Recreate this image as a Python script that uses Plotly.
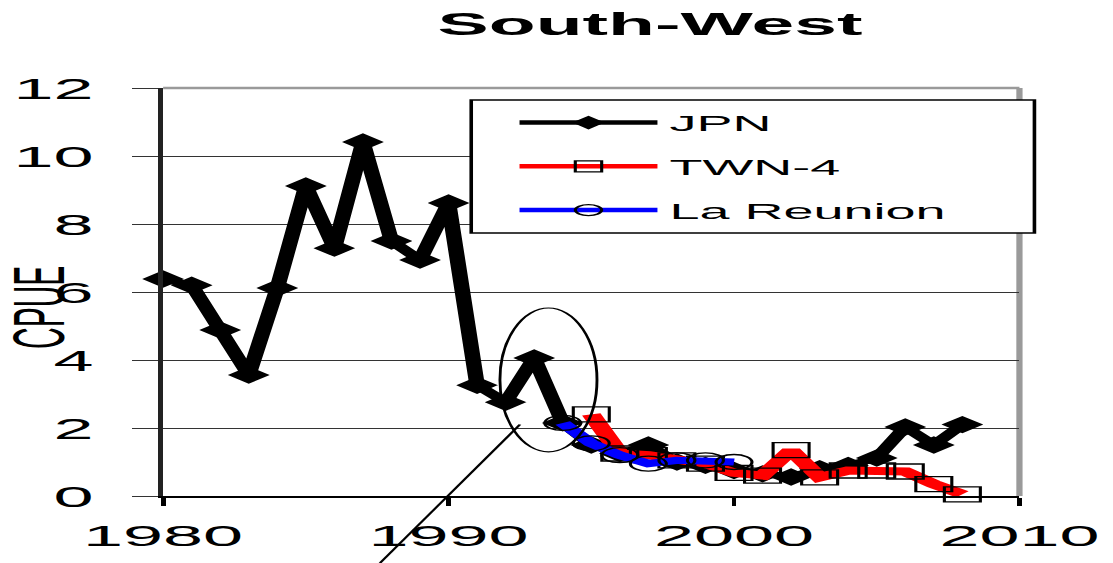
import plotly.graph_objects as go

# ---- data -------------------------------------------------------------
jpn_years = list(range(1980, 2009))
jpn_cpue = [6.38, 6.2, 4.88, 3.56, 6.12, 9.12, 7.29, 10.41, 7.5, 6.94,
            8.62, 3.26, 2.76, 4.06, 2.15, 1.5, 1.25, 1.5, 1.0, 0.9,
            0.75, 0.65, 0.56, 0.8, 0.9, 1.12, 2.03, 1.5, 2.1]

twn_years = list(range(1995, 2009))
twn_cpue = [2.4, 1.25, 1.2, 1.05, 0.95, 0.68, 0.6, 1.35, 0.55, 0.75,
            0.75, 0.72, 0.35, 0.05]

reu_years = list(range(1994, 2001))
reu_cpue = [2.15, 1.55, 1.2, 0.95, 1.05, 1.05, 1.0]

x_ticks = [1980, 1990, 2000, 2010]
y_ticks = [0, 2, 4, 6, 8, 10, 12]
x_range = [1980, 2010]
y_range = [0, 12]

# callout: ellipse around 1992-1995 and a pointer line running off the bottom
callout_x = [1991.8, 1995.2]
callout_y = [1.3, 5.53]
pointer_start = (1992.5, 2.1)
pointer_end_x = 1987.6

# ---- geometry ---------------------------------------------------------
# The chart is laid out narrow and then stretched horizontally by STRETCH.
PAGE_W, PAGE_H = 1113, 563
FIG_W = 464
STRETCH = PAGE_W / FIG_W
PLOT_L_PX, PLOT_R_PX = 164, 1020          # on the stretched page
M_L = PLOT_L_PX / STRETCH
M_R = FIG_W - PLOT_R_PX / STRETCH
M_T = 88
M_B = PAGE_H - 496
PLOT_W = FIG_W - M_L - M_R
PLOT_H = PAGE_H - M_T - M_B

# legend frame (paper units) and where the entries start
LEGEND_BOX = dict(x0=0.3598, x1=1.0175, y0=0.6446, y1=0.9706)
LEGEND_ENTRY_X = 0.398

FONT = "Liberation Sans, Arial, sans-serif"

# series styles: (name, values, line colour, line width, marker symbol, size)
series = [
    ("JPN", jpn_years, jpn_cpue, "black", 6.5, "diamond", 12),
    ("TWN-4", twn_years, twn_cpue, "#ff0000", 8, "square-open", 15),
    ("La Reunion", reu_years, reu_cpue, "#0000ff", 7, "circle-open", 15),
]
legend_marker_size = {"diamond": 9, "square-open": 11, "circle-open": 11}


def paper_x(x):
    return (x - x_range[0]) / (x_range[1] - x_range[0])


def paper_y(y):
    return (y - y_range[0]) / (y_range[1] - y_range[0])


fig = go.Figure()

for name, xs, ys, colour, width, symbol, size in series:
    marker = dict(symbol=symbol, size=size, color="black",
                  line=dict(color="black", width=1.3))
    fig.add_trace(go.Scatter(
        x=xs, y=ys, name=name, mode="lines+markers", cliponaxis=False,
        showlegend=False, legendgroup=name,
        line=dict(color=colour, width=width), marker=marker,
    ))

# legend entries use a thinner line and smaller symbols than the plotted series
for name, xs, ys, colour, width, symbol, size in series:
    fig.add_trace(go.Scatter(
        x=[None], y=[None], name=name, mode="lines+markers",
        legendgroup=name, showlegend=True,
        line=dict(color=colour, width=4.5),
        marker=dict(symbol=symbol, size=legend_marker_size[symbol],
                    color="black", line=dict(color="black", width=1.3)),
    ))

shapes = [
    # grey frame on top and right
    dict(type="line", xref="paper", yref="paper", x0=0, x1=1, y0=1, y1=1,
         line=dict(color="#9a9a9a", width=2.5), layer="below"),
    dict(type="line", xref="paper", yref="paper", x0=1, x1=1, y0=0, y1=1,
         line=dict(color="#9a9a9a", width=2.6), layer="below"),
    # callout
    dict(type="circle", xref="x", yref="y",
         x0=callout_x[0], x1=callout_x[1], y0=callout_y[0], y1=callout_y[1],
         line=dict(color="black", width=1.2)),
    dict(type="line", xref="paper", yref="paper",
         x0=paper_x(pointer_start[0]), y0=paper_y(pointer_start[1]),
         x1=paper_x(pointer_end_x), y1=-M_B / PLOT_H,
         line=dict(color="black", width=1.2)),
    # legend frame
    dict(type="rect", xref="paper", yref="paper", layer="above",
         fillcolor="white", line=dict(color="black", width=1.5),
         **LEGEND_BOX),
]

fig.update_layout(
    width=FIG_W, height=PAGE_H,
    margin=dict(l=M_L, r=M_R, t=M_T, b=M_B, pad=0, autoexpand=False),
    paper_bgcolor="white", plot_bgcolor="white",
    font=dict(family=FONT, color="black"),
    showlegend=True,
    title=dict(text="South-West", x=271 / FIG_W, xanchor="center",
               y=1 - 23.5 / PAGE_H, yanchor="middle",
               font=dict(size=32, weight="bold", color="black")),
    legend=dict(x=LEGEND_ENTRY_X, y=LEGEND_BOX["y1"],
                xanchor="left", yanchor="top",
                bgcolor="rgba(0,0,0,0)", bordercolor="rgba(0,0,0,0)",
                borderwidth=1.5,
                font=dict(size=22.5, color="black"),
                tracegroupgap=11.5, itemwidth=57.5),
    shapes=shapes,
    annotations=[dict(text="CPUE", xref="paper", yref="paper",
                      x=(39 / STRETCH - M_L) / PLOT_W, y=0.463,
                      xanchor="center", yanchor="middle", textangle=-90,
                      showarrow=False, font=dict(size=30, color="black"))],
)

fig.update_xaxes(
    range=x_range, tickvals=x_ticks, ticks="outside", ticklen=8,
    tickwidth=1.5, tickcolor="black", showline=True, linecolor="black",
    linewidth=2, showgrid=False, zeroline=False, automargin=False,
    tickfont=dict(size=30, color="black"), ticklabelstandoff=4,
)
fig.update_yaxes(
    range=y_range, tickvals=y_ticks, ticks="outside", ticklen=11,
    tickwidth=1, tickcolor="#333", showline=True, linecolor="#222",
    linewidth=2, showgrid=True, gridcolor="#333", gridwidth=1,
    zeroline=False, automargin=False,
    tickfont=dict(size=30, color="black"), ticklabelstandoff=10,
)

stretch_js = (
    "document.body.style.margin='0';"
    "document.body.style.overflow='hidden';"
    "var gd=document.getElementById('{plot_id}');"
    "gd.style.transformOrigin='0 0';"
    "gd.style.transform='scale(" + f"{STRETCH:.5f}" + ",1)';"
)

fig.write_html("out.html", post_script=stretch_js,
               default_width=f"{FIG_W}px", default_height=f"{PAGE_H}px",
               config=dict(displayModeBar=False))
